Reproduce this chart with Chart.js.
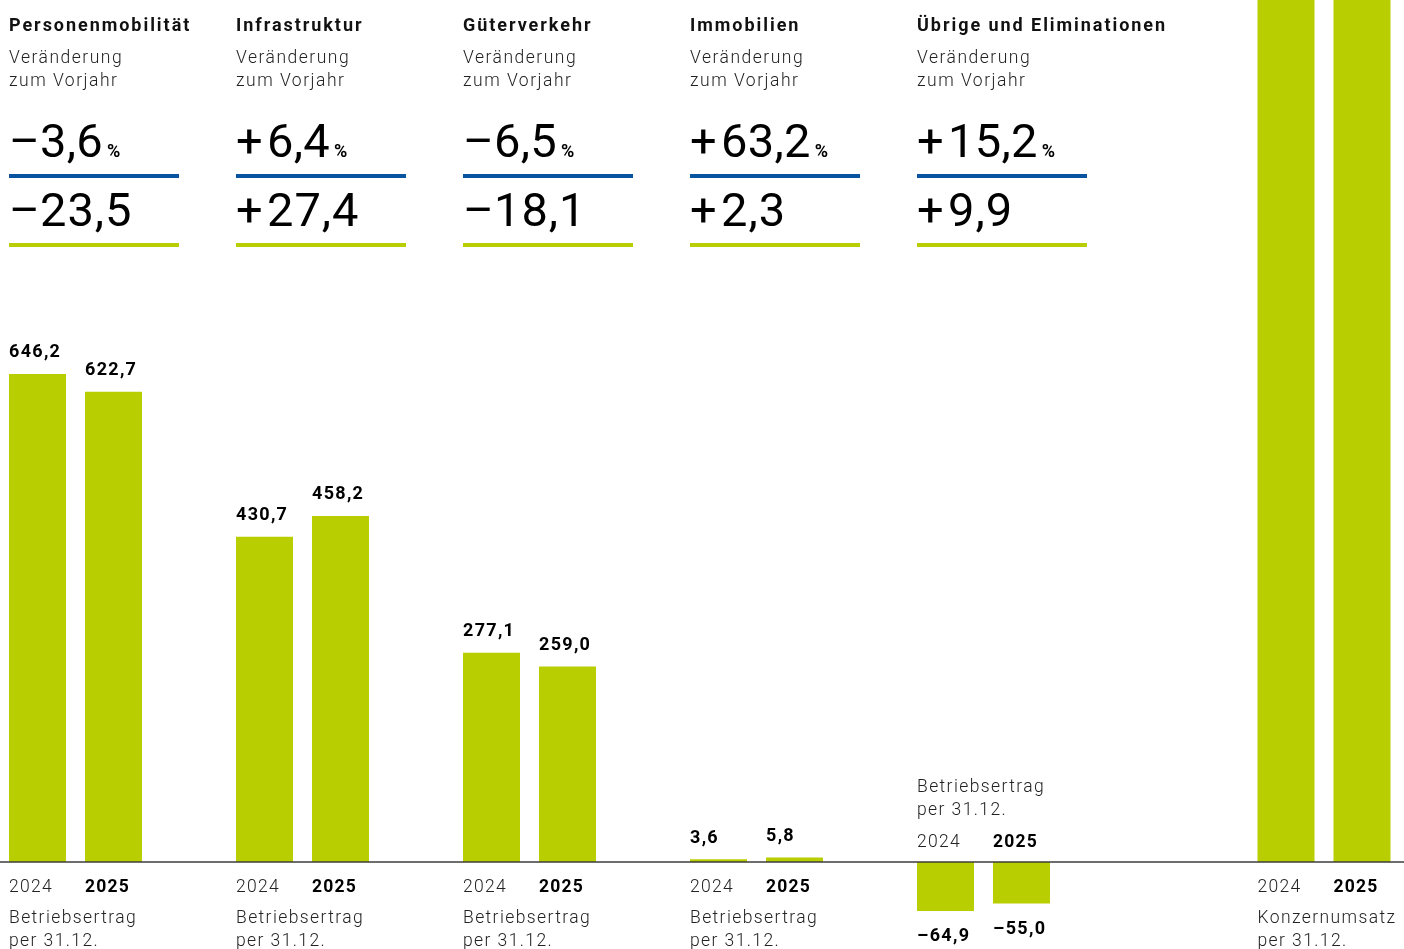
<!DOCTYPE html>
<html lang="de">

<head>
    <meta charset="UTF-8">
    <meta name="viewport" content="width=device-width, initial-scale=1.0">
    <script src="https://cdn.jsdelivr.net/npm/chart.js@4.4.1/dist/chart.umd.min.js"></script>
    <title>Betriebsertrag nach Segment</title>
    <style>
        html, body { margin: 0; padding: 0; background: #fff; }
        #wrap { width: 1404px; height: 949px; position: relative; }
    </style>
</head>

<body>
    <div id="wrap"><canvas id="myChart"></canvas></div>

    <script>
        // data
        const categories = ['Personenmobilität', 'Infrastruktur', 'Güterverkehr', 'Immobilien', 'Übrige und Eliminationen', 'Konzernumsatz']
        const values2024 = [646.2, 430.7, 277.1, 3.6, -64.9, 1292.7]
        const values2025 = [622.7, 458.2, 259.0, 5.8, -55.0, 1290.7]
        const changePct = [-3.6, 6.4, -6.5, 63.2, 15.2]
        const changeAbs = [-23.5, 27.4, -18.1, 2.3, 9.9]
        const yearLabels = ['2024', '2025']
        const bottomLabels = ['Betriebsertrag', 'Betriebsertrag', 'Betriebsertrag', 'Betriebsertrag', 'Betriebsertrag', 'Konzernumsatz']
        const showValues = [true, true, true, true, true, false]

        const GREEN = 'rgb(185, 206, 0)'
        const BLUE = 'rgb(8, 84, 160)'
        const FONT = 'Roboto, "Liberation Sans", sans-serif'

        // category slots: one empty slot between segments, two before the group total
        const slots = []
        categories.forEach((c, i) => {
            if (i === categories.length - 1) slots.push('', '')
            else if (i > 0) slots.push('')
            slots.push(c)
        })
        const toSlots = (vals) => slots.map(s => {
            const i = categories.indexOf(s)
            return i === -1 ? null : vals[i]
        })

        const fmt = (v) => Math.abs(v).toFixed(1).replace('.', ',')
        const sign = (v) => v < 0 ? '–' : '+'

        const text = (ctx, str, x, y, font, color, spacing) => {
            ctx.font = font
            ctx.fillStyle = color
            ctx.letterSpacing = (spacing || 0) + 'px'
            ctx.fillText(str, x, y)
            const w = ctx.measureText(str).width
            ctx.letterSpacing = '0px'
            return w
        }

        const labelsPlugin = {
            id: 'labels',
            afterDatasetsDraw(chart) {
                const ctx = chart.ctx
                const y0 = chart.scales.y.getPixelForValue(0)
                const m0 = chart.getDatasetMeta(0)
                const m1 = chart.getDatasetMeta(1)
                ctx.save()
                ctx.textBaseline = 'alphabetic'
                ctx.textAlign = 'left'

                // zero line over the full width
                ctx.strokeStyle = '#3c3c3c'
                ctx.lineWidth = 1.5
                ctx.beginPath()
                ctx.moveTo(0, y0)
                ctx.lineTo(chart.width, y0)
                ctx.stroke()

                const light = '300 17.5px ' + FONT
                const bold = 'bold 18px ' + FONT
                const big = '47px ' + FONT

                categories.forEach((cat, i) => {
                    const slot = slots.indexOf(cat)
                    const b0 = m0.data[slot]
                    const b1 = m1.data[slot]
                    const left0 = b0.x - b0.width / 2
                    const left1 = b1.x - b1.width / 2

                    // header block for the segments
                    if (i < changePct.length) {
                        text(ctx, cat, left0, 31, bold, '#111', 1.95)
                        text(ctx, 'Veränderung', left0, 63, light, '#222', 1.5)
                        text(ctx, 'zum Vorjahr', left0, 86, light, '#222', 1.5)

                        text(ctx, sign(changePct[i]), left0, 157, big, '#000', 0)
                        const w = text(ctx, fmt(changePct[i]), left0 + 31, 157, big, '#000', 0.3)
                        text(ctx, '%', left0 + 31 + w + 4, 157, 'bold 18px ' + FONT, '#000', 0)
                        ctx.fillStyle = BLUE
                        ctx.fillRect(left0, 174, 170, 4)

                        text(ctx, sign(changeAbs[i]), left0, 226, big, '#000', 0)
                        text(ctx, fmt(changeAbs[i]), left0 + 31, 226, big, '#000', 1)
                        ctx.fillStyle = GREEN
                        ctx.fillRect(left0, 243, 170, 4)
                    }

                    // value labels on the bars
                    if (showValues[i]) {
                        [[b0, values2024[i], left0], [b1, values2025[i], left1]].forEach(([b, v, lx]) => {
                            const str = (v < 0 ? '–' : '') + fmt(v)
                            const yy = v < 0 ? b.y + 30 : b.y - 16.5
                            text(ctx, str, lx, yy, bold, '#000', 1.3)
                        })
                    }

                    // year labels and caption, above the axis for negative groups
                    const neg = values2024[i] < 0
                    const yYear = neg ? y0 - 15 : y0 + 30
                    text(ctx, yearLabels[0], left0, yYear, light, '#222', 1.3)
                    text(ctx, yearLabels[1], left1, yYear, 'bold 17.5px ' + FONT, '#000', 1.2)
                    const yCap = neg ? y0 - 70 : y0 + 61
                    text(ctx, bottomLabels[i], left0, yCap, light, '#222', 1.4)
                    text(ctx, 'per 31.12.', left0, yCap + 23, light, '#222', 1.4)
                })
                ctx.restore()
            }
        }

        const ctx = document.getElementById('myChart').getContext('2d')
        const myChart = new Chart(ctx, {
            type: 'bar',
            data: {
                labels: slots,
                datasets: [{
                    label: yearLabels[0],
                    data: toSlots(values2024),
                    backgroundColor: GREEN,
                    clip: false
                }, {
                    label: yearLabels[1],
                    data: toSlots(values2025),
                    backgroundColor: GREEN,
                    clip: false
                }]
            },
            options: {
                responsive: true,
                maintainAspectRatio: false,
                animation: false,
                barPercentage: 0.75,
                categoryPercentage: 1.339,
                layout: { padding: { left: 18.75, right: 23.25, top: 0, bottom: 0 } },
                plugins: {
                    legend: { display: false },
                    tooltip: { enabled: false }
                },
                scales: {
                    x: { display: false },
                    y: { display: false, min: -115.2, max: 1141.4 }
                }
            },
            plugins: [labelsPlugin]
        })
    </script>
</body>

</html>
